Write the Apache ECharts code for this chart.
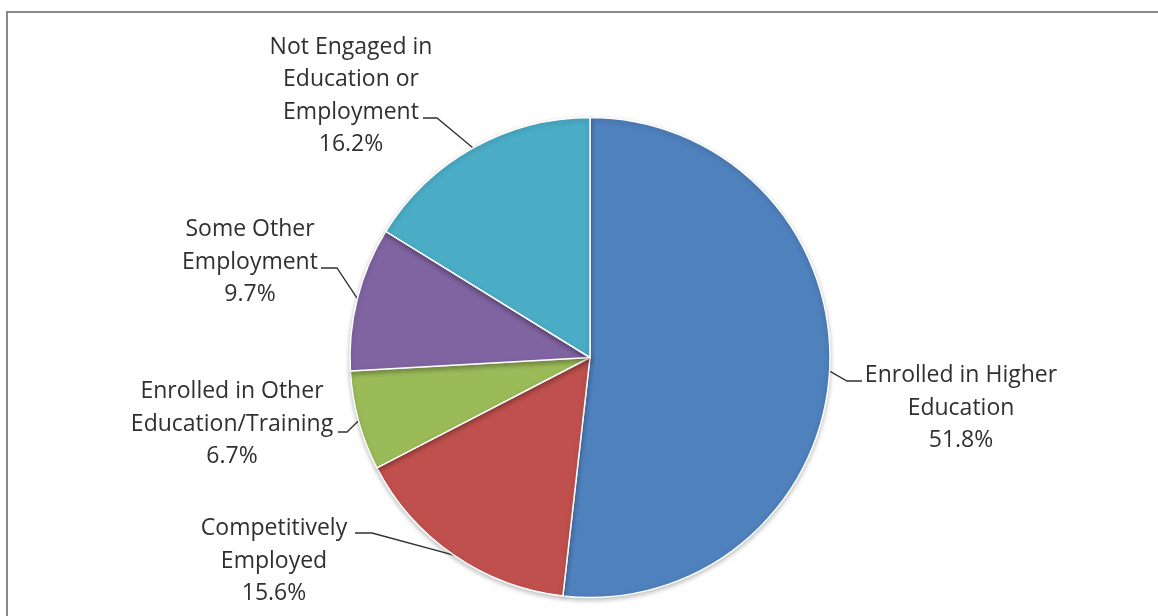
<!DOCTYPE html>
<html>
<head>
<meta charset="utf-8">
<script src="https://cdn.jsdelivr.net/npm/echarts@6/dist/echarts.min.js"></script>
<style>
html,body{margin:0;padding:0;background:#fff;}
#chart{width:1158px;height:616px;}
</style>
</head>
<body>
<div id="chart"></div>
<script>
// Data
var categories = [
  "Enrolled in Higher\nEducation",
  "Competitively\nEmployed",
  "Enrolled in Other\nEducation/Training",
  "Some Other\nEmployment",
  "Not Engaged in\nEducation or\nEmployment"
];
var values = [51.8, 15.6, 6.7, 9.7, 16.2];
var colors = ["#4F81BD", "#C0504D", "#9BBB59", "#8064A2", "#4BACC6"];

// Label layout (text block centre, leader-line bend and end)
var labelPos = [
  {x: 961, y: 408, bend: [847, 381], end: [862, 381]},
  {x: 274, y: 561, bend: [372, 533], end: [355, 533]},
  {x: 232, y: 424, bend: [347, 432], end: [338, 432]},
  {x: 250, y: 262, bend: [337, 268], end: [321, 268]},
  {x: 351, y: 96,  bend: [437, 118], end: [423, 118]}
];

var chart = echarts.init(document.getElementById('chart'));
var data = categories.map(function (c, i) {
  return {name: c, value: values[i], itemStyle: {color: colors[i]}};
});

chart.setOption({
  animation: false,
  graphic: [{
    type: 'rect',
    shape: {x: 7, y: 12, width: 1200, height: 700},
    style: {fill: 'none', stroke: '#8a8a8a', lineWidth: 2},
    z: 100
  }],
  series: [{
    type: 'pie',
    center: [590, 357.5],
    radius: 240,
    startAngle: 90,
    clockwise: true,
    data: data,
    itemStyle: {
      borderColor: '#ffffff',
      borderWidth: 1.5,
      shadowBlur: 5,
      shadowColor: 'rgba(0,0,0,0.25)',
      shadowOffsetY: 2
    },
    emphasis: {disabled: true},
    label: {
      show: true,
      position: 'outside',
      formatter: function (p) { return p.name + '\n' + p.value.toFixed(1) + '%'; },
      fontFamily: 'Open Sans',
      fontSize: 23,
      lineHeight: 32.5,
      color: '#303030',
      align: 'center'
    },
    labelLine: {
      show: true,
      length: 10,
      length2: 10,
      lineStyle: {color: '#303030', width: 1.3}
    },
    labelLayout: function (params) {
      var lp = labelPos[params.dataIndex];
      var start = params.labelLinePoints ? params.labelLinePoints[0] : lp.bend;
      return {
        x: lp.x,
        y: lp.y,
        align: 'center',
        verticalAlign: 'middle',
        labelLinePoints: [start, lp.bend, lp.end]
      };
    }
  }]
});
</script>
</body>
</html>
